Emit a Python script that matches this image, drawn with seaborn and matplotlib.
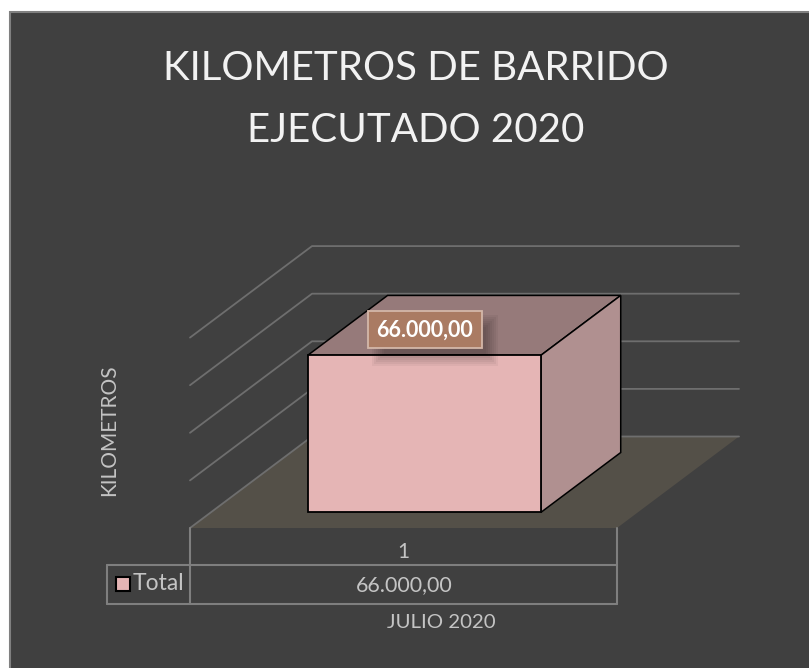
import matplotlib
matplotlib.use('Agg')
import matplotlib.pyplot as plt
from matplotlib.lines import Line2D
from matplotlib.patches import Polygon, Rectangle
import pandas as pd
import seaborn as sns

# datos del grafico
titulo = ['KILOMETROS DE BARRIDO', 'EJECUTADO 2020']
periodos = ['1']
totales = [66000.0]
serie = 'Total'
eje_y = 'KILOMETROS'
eje_x = 'JULIO 2020'
marcas_y = [0, 20000, 40000, 60000, 80000]

W, H = 809, 668
FONDO = '#404040'
TEXTO = '#c4c4c4'
LINEA_TABLA = '#7f7f7f'
REJILLA = '#6e6e6e'
ROSA = '#e5b5b5'

sns.set_theme(style='white')
plt.rcParams['font.family'] = ['Lato', 'DejaVu Sans']


def miles(v):
    return f'{v:,.2f}'.replace(',', 'X').replace('.', ',').replace('X', '.')


def px_x(x):
    return x / W


def px_y(y):
    return 1 - y / H


def texto(x, y, s, **kw):
    kw.setdefault('color', TEXTO)
    fig.text(px_x(x), px_y(y), s, ha='center', va='center', **kw)


def linea(x0, y0, x1, y1):
    fig.add_artist(Line2D([px_x(x0), px_x(x1)], [px_y(y0), px_y(y1)], color=LINEA_TABLA, lw=1.5))


def caja(x0, y0, x1, y1, **kw):
    fig.add_artist(Rectangle((px_x(x0), px_y(y1)), (x1 - x0) / W, (y1 - y0) / H,
                             transform=fig.transFigure, **kw))


fig = plt.figure(figsize=(W / 100, H / 100), dpi=100, facecolor='white')
caja(10, 12, W + 5, H + 5, facecolor=FONDO, edgecolor='#808080', lw=1.5, zorder=-1)

# el plano frontal del grafico 3D
ax = fig.add_axes([px_x(190), px_y(528), 427 / W, 190.4 / H])
df = pd.DataFrame({'periodo': periodos, 'total': totales})
sns.barplot(data=df, x='periodo', y='total', color=ROSA, saturation=1, width=0.546, ax=ax, zorder=5)
ax.set_xlim(-0.5, 0.5)
ax.set_ylim(marcas_y[0], marcas_y[-1])
ax.axis('off')

# proyeccion oblicua: desplazamiento del fondo en unidades de datos
DX = 122 / 427
DY = 91.5 / 190.4 * marcas_y[-1]


def proy(x, y, d):
    return (x + d * DX, y + d * DY)


x_izq, x_der = ax.get_xlim()

# barra: la cara frontal sale de seaborn, las otras dos de su geometria
d0, d1 = 0.17, 0.825
barra = ax.patches[0]
bx, bw, bh = barra.get_x(), barra.get_width(), barra.get_height()
barra.set_x(bx + d0 * DX)
barra.set_y(d0 * DY)
barra.set_edgecolor('black')
barra.set_linewidth(1.3)
barra.set_clip_on(False)

# piso
ax.add_patch(Polygon([proy(x_izq, 0, 0), proy(x_der, 0, 0), proy(x_der, 0, 1), proy(x_izq, 0, 1)],
                     facecolor='#545048', edgecolor='none', clip_on=False, zorder=1))

# rejilla
for m in marcas_y:
    p0, p1, p2 = proy(x_izq, m, 0), proy(x_izq, m, 1), proy(x_der, m, 1)
    ax.plot([p0[0], p1[0], p2[0]], [p0[1], p1[1], p2[1]], color=REJILLA, lw=1.3, clip_on=False, zorder=2)

sup = [proy(bx, bh, d0), proy(bx + bw, bh, d0), proy(bx + bw, bh, d1), proy(bx, bh, d1)]
lado = [proy(bx + bw, 0, d0), proy(bx + bw, 0, d1), proy(bx + bw, bh, d1), proy(bx + bw, bh, d0)]
ax.add_patch(Polygon(sup, facecolor='#967a7a', edgecolor='black', lw=1.1, clip_on=False, zorder=4))
ax.add_patch(Polygon(lado, facecolor='#b09090', edgecolor='black', lw=1.1, clip_on=False, zorder=4))

# titulo y ejes
texto(416, 69, titulo[0], fontsize=29, color='#f2f2f2')
texto(416, 130, titulo[1], fontsize=29, color='#f2f2f2')
texto(109, 430, eje_y, fontsize=15, rotation=90)
texto(441, 622, eje_x, fontsize=14.7)

# tabla de datos
linea(190, 528, 190, 604)
linea(617, 528, 617, 604)
linea(107, 565, 617, 565)
linea(107, 604, 617, 604)
linea(107, 565, 107, 604)
caja(116, 577, 130, 591, facecolor=ROSA, edgecolor='black', lw=1.5)
texto(158.5, 584, serie, fontsize=16.5)
texto(403, 552, periodos[0], fontsize=15)
texto(404, 585, miles(totales[0]), fontsize=15.5)

# etiqueta con sombra
for i in range(7):
    caja(372 + i * 2, 315 + i * 2, 498 - i * 2, 366 - i * 2, facecolor='black', edgecolor='none', alpha=0.045, zorder=6)
caja(367.5, 310.5, 482, 348, facecolor='#aa7b63', edgecolor='#d4b7a9', lw=1.3, zorder=7)
texto(424.5, 330, miles(totales[0]), fontsize=15.5, color='white', fontweight='bold', zorder=8)

fig.savefig('out.png', dpi=100)
